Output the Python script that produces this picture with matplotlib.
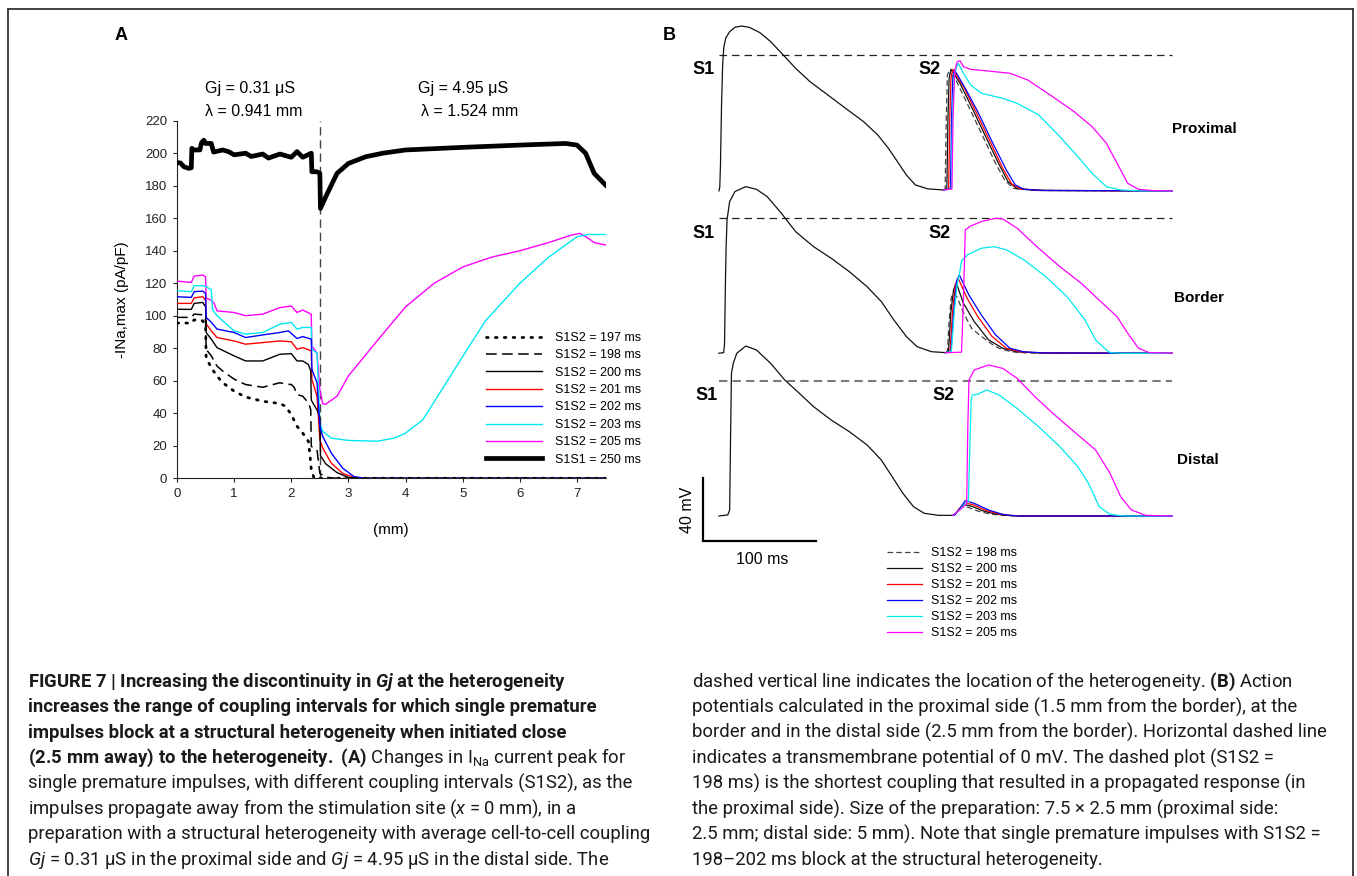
import matplotlib
matplotlib.use("Agg")
import matplotlib.pyplot as plt
from matplotlib.lines import Line2D

W, H = 1357, 876
plt.rcParams['font.family'] = ['Liberation Sans', 'DejaVu Sans']
plt.rcParams['mathtext.fontset'] = 'custom'
plt.rcParams['mathtext.rm'] = 'Roboto'
plt.rcParams['mathtext.it'] = 'Roboto:italic'
plt.rcParams['mathtext.bf'] = 'Roboto:bold'
plt.rcParams['mathtext.bfit'] = 'Roboto:italic:bold'

# ---------------- Panel A data: distance (mm) vs -INa,max (pA/pF) ----------------
x_197 = [0, 0.25, 0.3, 0.45, 0.5, 0.51, 0.6, 0.7, 0.8, 1.0, 1.2, 1.5, 1.8, 1.9, 2.0, 2.1, 2.2, 2.3, 2.33, 2.35, 2.4, 7.5]
y_197 = [95.5, 95.5, 97.5, 96.9, 93.8, 74.2, 68, 62.9, 58.8, 53.6, 50, 47.4, 46, 44.3, 39.2, 32, 27.8, 22.7, 13.4, 5.2, 0, 0]

x_198 = [0, 0.25, 0.3, 0.45, 0.5, 0.51, 0.6, 0.7, 0.8, 1.0, 1.2, 1.5, 1.8, 1.9, 2.0, 2.05, 2.1, 2.2, 2.3, 2.34, 2.35, 2.45, 2.5, 2.6, 2.8, 7.5]
y_198 = [99, 99, 101, 100.6, 97, 79.4, 75.3, 69, 66, 61, 57.7, 56, 58.8, 58, 57.7, 56, 51.5, 50.5, 46.4, 42.3, 19.6, 17.5, 3, 0.6, 0, 0]

x_200 = [0, 0.25, 0.3, 0.45, 0.5, 0.51, 0.6, 0.7, 1.0, 1.2, 1.5, 1.8, 2.0, 2.1, 2.2, 2.3, 2.34, 2.35, 2.45, 2.5, 2.51, 2.6, 2.8, 3.0, 3.2, 7.5]
y_200 = [104, 103.9, 107.6, 108.2, 105.5, 89.7, 85.6, 80.4, 75.3, 72.2, 72.2, 76.3, 76.7, 72.2, 72.2, 70, 66, 48, 42, 38, 14, 9, 3.5, 0.5, 0, 0]

x_201 = [0, 0.25, 0.3, 0.45, 0.5, 0.51, 0.6, 0.7, 1.0, 1.2, 1.5, 1.8, 2.0, 2.1, 2.2, 2.35, 2.36, 2.45, 2.5, 2.55, 2.7, 2.9, 3.1, 3.3, 7.5]
y_201 = [107.6, 107.6, 111, 111.7, 109.6, 95, 90.7, 86.6, 84.5, 82.5, 83.5, 84.5, 84, 79.4, 80.4, 78.4, 60.8, 50.5, 23.7, 18.6, 9.3, 3, 0.5, 0, 0]

x_202 = [0, 0.25, 0.3, 0.45, 0.5, 0.51, 0.6, 0.7, 1.0, 1.2, 1.5, 1.8, 1.95, 2.1, 2.2, 2.35, 2.36, 2.45, 2.5, 2.55, 2.7, 2.9, 3.1, 3.3, 7.5]
y_202 = [111.7, 111.3, 114.8, 115.2, 113.7, 99, 96, 91.8, 89.7, 86.6, 88.2, 89.7, 90.7, 86, 87.2, 85.6, 67, 58.8, 32, 25.8, 15.5, 6.2, 1, 0, 0]

x_203 = [0, 0.25, 0.3, 0.45, 0.5, 0.6, 0.62, 0.7, 1.0, 1.2, 1.5, 1.8, 2.0, 2.1, 2.2, 2.35, 2.36, 2.45, 2.5, 2.55, 2.7, 3.0, 3.5, 3.8, 4.0, 4.3, 4.6, 5.0, 5.4, 6.0, 6.5, 7.0, 7.2, 7.5]
y_203 = [115.4, 114.8, 118.5, 118.5, 118, 116, 104, 100, 90.7, 88.7, 89.7, 94.8, 95.9, 91.8, 92.8, 92.8, 79.4, 77, 34, 28.9, 24.7, 23.3, 22.8, 24.7, 27.8, 36, 52.6, 75, 97, 120, 136, 148.6, 150, 150]

x_205 = [0, 0.25, 0.3, 0.45, 0.5, 0.51, 0.6, 0.65, 0.7, 1.0, 1.2, 1.5, 1.8, 2.0, 2.1, 2.2, 2.35, 2.36, 2.45, 2.5, 2.55, 2.6, 2.8, 3.0, 3.5, 4.0, 4.5, 5.0, 5.5, 6.0, 6.5, 6.9, 7.05, 7.2, 7.3, 7.5]
y_205 = [121.3, 120.5, 124.4, 125, 124, 110.7, 109.6, 107.6, 103, 102, 100, 101, 105, 106, 102, 103.5, 101, 81.4, 77, 54.6, 45.8, 45.5, 50.5, 63, 84.5, 105.5, 120, 130, 136, 140, 145, 149.6, 150.7, 147.6, 145, 143.5]

x_250 = [0, 0.06, 0.12, 0.2, 0.25, 0.26, 0.3, 0.4, 0.43, 0.47, 0.5, 0.6, 0.64, 0.8, 0.9, 1.0, 1.2, 1.3, 1.5, 1.6, 1.8, 2.0, 2.1, 2.2, 2.35, 2.36, 2.45, 2.5, 2.51, 2.6, 2.8, 3.0, 3.3, 3.6, 4.0, 5.0, 6.0, 6.8, 7.0, 7.15, 7.3, 7.5]
y_250 = [194.2, 194, 191.7, 190.7, 191, 203, 202, 202, 206.5, 208, 206, 206, 200.7, 202, 201, 199, 200, 198, 199.5, 197, 199.5, 197.5, 201, 197.5, 200, 188.6, 188.6, 187.6, 166, 173, 187.6, 193.7, 197.8, 200, 202, 203.6, 205, 206, 205, 200, 187.6, 180.4]

HETERO_MM = 2.5
A_XTICKS = list(range(0, 8))
A_YTICKS = list(range(0, 221, 20))
A_LABELS = ['S1S2 = 197 ms', 'S1S2 = 198 ms', 'S1S2 = 200 ms', 'S1S2 = 201 ms',
            'S1S2 = 202 ms', 'S1S2 = 203 ms', 'S1S2 = 205 ms', 'S1S1 = 250 ms']

# ---------------- Panel B data: time (ms) vs membrane potential (mV) ----------------
prox_s1 = [(-3.2, -86.3), (-2.4, -84), (-1.8, -70), (-0.8, -30), (0.2, -5), (1.2, 5), (2.8, 10.6), (6.3, 14.8), (11, 17.6),
           (16.7, 18.4), (23.6, 17.6), (33, 14.2), (42.5, 8.5), (53.6, 0), (64.6, -8.5), (77.2, -16.9), (93, -25.4),
           (108.7, -33.9), (124.5, -42.3), (137.1, -50.8), (146.5, -59.3), (154.4, -67.7), (162.3, -76.2),
           (170.2, -82.5), (181.2, -85), (195.4, -85.7)]
prox_198 = [(195, -85.7), (196.5, -85), (197.5, -40), (198.5, -12.7), (200, -10.5), (206, -15.9), (215.9, -30.7), (228.5, -49.7),
            (241, -68.8), (249, -79.4), (256.9, -84.7), (275.8, -86), (397, -86.3)]
prox_200 = [(195, -85.7), (198, -85), (199, -40), (200, -15), (201.7, -9.1), (209.6, -18), (219, -31.7), (231.6, -50.8),
            (244.3, -69.8), (252, -80.4), (260, -84.9), (279, -86), (397, -86.3)]
prox_201 = [(195, -85.7), (199.6, -85), (200.6, -40), (201.6, -15), (203.3, -9.1), (212.7, -20), (222.2, -33.9), (234.8, -52.9),
            (247.4, -72), (255.3, -81.9), (263.2, -85), (282, -86), (397, -86.3)]
prox_202 = [(195, -85.7), (201.2, -85), (202.2, -40), (203.2, -15), (204.8, -9.5), (214.3, -21.2), (225.3, -36), (237.9, -55),
            (250.5, -73), (258.4, -82.5), (266.3, -85.3), (285, -86), (397, -86.3)]
prox_203 = [(195, -85.7), (202, -85), (203, -40), (204.5, -12), (208, -5.3), (212.7, -11.6), (219, -19), (228.5, -24.3),
            (247.4, -27.5), (260, -30.7), (279, -38), (297.8, -51.9), (313.6, -64.5), (326.2, -75.1), (338.8, -83.6),
            (351.4, -85.7), (370, -86.3), (397, -86.3)]
prox_205 = [(195, -85.7), (202.5, -85), (203.5, -40), (205, -10), (207, -4.5), (209.6, -3.6), (212.7, -7.4), (219, -9.1),
            (234.8, -10.2), (253.7, -11.6), (269.5, -15.9), (291.5, -26.5), (310.4, -36), (326.2, -45.5), (338.8, -56),
            (348.3, -68.8), (357.7, -81.5), (367.2, -85.3), (379.8, -86.1), (397, -86.3)]

bord_s1 = [(-3.2, -85.7), (1.0, -85.3), (1.8, -80), (2.6, -40), (3.2, -18), (4.0, -1), (6.3, 10.6), (11, 17), (20.5, 20.1),
           (30, 18.4), (39.4, 13.8), (52, 3.2), (64.6, -8.5), (80.4, -18), (96, -25.4), (112, -33.9), (127.6, -43.4),
           (140.2, -52.9), (151.3, -64.6), (162.3, -75.1), (171.7, -81.5), (184.4, -84.7), (197, -85.3)]
bord_198 = [(197, -85.3), (198.5, -84.5), (200, -65), (202, -50), (204, -47.6), (207, -50), (212.7, -60), (220, -70),
            (228.5, -75), (238, -80), (244, -82.5), (255, -84.8), (270, -85.5), (397, -85.7)]
bord_200 = [(197, -85.3), (199.5, -84.5), (201.5, -60), (204, -45), (206.4, -41.3), (212.7, -54), (222.2, -65.6),
            (234.8, -77.2), (247.4, -82.5), (260, -84.8), (280, -85.5), (397, -85.7)]
bord_201 = [(197, -85.3), (200.8, -84.5), (203, -60), (205.5, -42), (208, -38), (215.9, -50.8), (225.3, -62.4),
            (237.9, -75), (250.5, -82.5), (263, -84.8), (283, -85.5), (397, -85.7)]
bord_202 = [(197, -85.3), (201.7, -84.5), (204, -60), (206.5, -40), (209, -36), (217.5, -48.7), (228.5, -61.4),
            (241, -74), (253.7, -82.5), (266, -84.8), (286, -85.5), (397, -85.7)]
bord_203 = [(197, -85.3), (202, -84.5), (204.5, -60), (207, -42), (209, -36), (211, -27), (215.9, -23.3), (228.5, -19),
            (239.5, -18), (250.5, -20), (266.3, -26.5), (285.2, -37), (304, -49.7), (320, -64.6), (329.3, -77.2),
            (338.8, -83.6), (342, -85.3), (353.6, -85.7), (397, -85.7)]
bord_205 = [(197, -85.3), (211, -85), (212.7, -50), (214.3, -7.4), (219, -4.9), (228.5, -2.1), (241, 0), (247.4, -0.4),
            (260, -6.3), (279, -19), (297.8, -30.7), (316.7, -41.3), (332.4, -51.9), (348.2, -62.4), (357.7, -73),
            (367.1, -82.5), (376.7, -85.3), (397, -85.7)]

dist_s1 = [(-3.2, -85.7), (4.7, -85), (6.3, -82), (7.2, -31), (7.9, 4.9), (9.5, 11.2), (12.6, 17.6), (20.5, 22.2), (30, 19.7),
           (42.5, 11.2), (55, 0.6), (67.8, -7.8), (80.4, -16.3), (96, -24.8), (112, -32.2), (127.6, -40.6),
           (140.2, -50.2), (149.7, -60.7), (159.2, -71.3), (168.6, -79.8), (178, -84), (190.7, -85.3), (203.3, -85.3)]
dist_198 = [(203.3, -85.3), (205, -84.5), (209.6, -81.5), (213, -79.5), (218, -80.5), (225, -82.5), (235, -84.3),
            (247, -85.3), (260, -85.7), (397, -85.7)]
dist_200 = [(203.3, -85.3), (205, -84.5), (209.6, -81), (213.5, -78.5), (220, -79.5), (230, -82.5), (240, -84.3),
            (250, -85.3), (262, -85.7), (397, -85.7)]
dist_201 = [(203.3, -85.3), (205, -84.5), (209.6, -80.5), (214, -77.5), (221, -78.5), (232, -82), (243, -84.3),
            (253, -85.3), (264, -85.7), (397, -85.7)]
dist_202 = [(203.3, -85.3), (204.8, -85.3), (209.6, -80.8), (214.3, -76), (222.2, -77.7), (234.8, -81.9), (247.4, -84.7),
            (260, -85.7), (397, -85.7)]
dist_203 = [(203.3, -85.3), (209, -82), (214, -78), (217, -76.5), (218, -50), (219.5, -12), (220.6, -8.9), (225, -8.5),
            (233.2, -5.7), (244.2, -8.9), (260, -17.4), (279, -29), (297.8, -41.7), (313.6, -54.4), (323, -65),
            (332.5, -79.8), (342, -84.7), (354.6, -85.7), (397, -85.7)]
dist_205 = [(203.3, -85.3), (209, -82), (215.5, -78), (216.5, -30), (217.5, 0.6), (222.2, 7), (234.8, 10.2), (247.4, 8),
            (260, 1.7), (275.8, -10), (291.5, -20.5), (310.4, -32.2), (329.3, -43.8), (342, -58.6), (351.4, -73.4),
            (360.9, -81.9), (373.5, -85.3), (397, -85.7)]

ZERO_LINE_T = (-3.2, 397)
SCALE_T0, SCALE_V0 = -17.5, -101.6
SCALE_DT, SCALE_DV = 100, 40
B_LABELS = ['S1S2 = 198 ms', 'S1S2 = 200 ms', 'S1S2 = 201 ms', 'S1S2 = 202 ms', 'S1S2 = 203 ms', 'S1S2 = 205 ms']

# ---------------- layout helpers ----------------
def fbox(l, t, r, b):
    return [l / W, 1 - b / H, (r - l) / W, (b - t) / H]

def fp(x, y):
    return (x / W, 1 - y / H)

fig = plt.figure(figsize=(W / 100, H / 100), dpi=100)

# outer frame
fig.add_artist(Line2D([8 / W, 8 / W], [0, 1 - 9 / H], color='#333333', lw=1.3))
fig.add_artist(Line2D([8 / W, 1353 / W], [1 - 9 / H, 1 - 9 / H], color='#333333', lw=1.3))
fig.add_artist(Line2D([1353 / W, 1353 / W], [0, 1 - 9 / H], color='#333333', lw=1.3))

# ---------------- Panel A ----------------
axA = fig.add_axes(fbox(177, 120.7, 605.6, 478.3))
axA.plot(x_250, y_250, color='black', lw=3.4, solid_joinstyle='round', zorder=3, label=A_LABELS[7])
axA.plot(x_205, y_205, color='#ff00ff', lw=1.0, zorder=4, label=A_LABELS[6])
axA.plot(x_203, y_203, color='#00e8f0', lw=1.0, zorder=4, label=A_LABELS[5])
axA.plot(x_201, y_201, color='#ff0000', lw=1.0, zorder=4, label=A_LABELS[3])
axA.plot(x_200, y_200, color='black', lw=1.0, zorder=4, label=A_LABELS[2])
axA.plot(x_198, y_198, color='black', lw=1.1, ls=(0, (7, 3.5)), zorder=4, label=A_LABELS[1])
axA.plot(x_202, y_202, color='#0000ff', lw=1.0, zorder=5, label=A_LABELS[4])
axA.plot(x_197, y_197, color='black', lw=2.0, ls=(0, (0.6, 2.6)), dash_capstyle='round', zorder=6, label=A_LABELS[0])
axA.axvline(HETERO_MM, color='#444444', lw=1.0, ls=(0, (6, 3.5)), zorder=2)

axA.set_xlim(0, 7.5)
axA.set_ylim(0, 220)
axA.set_xticks(A_XTICKS)
axA.set_yticks(A_YTICKS)
axA.tick_params(direction='out', length=3, width=0.8, labelsize=9.5, pad=4, colors='#222222')
for s in ['top', 'right']:
    axA.spines[s].set_visible(False)
for s in ['left', 'bottom']:
    axA.spines[s].set_linewidth(0.8)
    axA.spines[s].set_color('#222222')
axA.set_ylabel('-INa,max (pA/pF)', fontsize=11)
axA.yaxis.set_label_coords(-0.112, 0.5)
axA.set_xlabel('(mm)', fontsize=11)
axA.xaxis.set_label_coords(0.5, -0.125)

h, l = axA.get_legend_handles_labels()
order = [A_LABELS.index(lab) for lab in l]
pairs = sorted(zip(order, h, l))
axA.legend([p[1] for p in pairs], [p[2] for p in pairs], loc='upper left',
           bbox_to_anchor=fp(486, 332), bbox_transform=fig.transFigure,
           frameon=False, fontsize=9, handlelength=4.5, handletextpad=1.0,
           labelspacing=0.43, borderpad=0, borderaxespad=0)

fig.text(*fp(121, 36), 'A', fontsize=13, fontweight='bold', ha='center', va='center')
fig.text(*fp(205, 88), 'Gj = 0.31 \u03bcS', fontsize=11.5, ha='left', va='center')
fig.text(*fp(205, 111), '\u03bb = 0.941 mm', fontsize=11.5, ha='left', va='center')
fig.text(*fp(418, 88), 'Gj = 4.95 \u03bcS', fontsize=11.5, ha='left', va='center')
fig.text(*fp(421, 111), '\u03bb = 1.524 mm', fontsize=11.5, ha='left', va='center')

# ---------------- Panel B ----------------
PX_MS = 1.133
PX_MV = 1.575
T0_PX = 722.5
B_LEFT, B_RIGHT = 690, 1180
V_TOP, V_BOT = 30, -110
zero_px = {'prox': 55.0, 'bord': 218.3, 'dist': 381.0}

def trace_axes(zero_y):
    top = zero_y - V_TOP * PX_MV
    bot = zero_y - V_BOT * PX_MV
    ax = fig.add_axes(fbox(B_LEFT, top, B_RIGHT, bot))
    ax.set_xlim((B_LEFT - T0_PX) / PX_MS, (B_RIGHT - T0_PX) / PX_MS)
    ax.set_ylim(V_BOT, V_TOP)
    ax.axis('off')
    ax.patch.set_alpha(0)
    return ax

def xy(pts):
    return [p[0] for p in pts], [p[1] for p in pts]

styles = [
    dict(color='#444444', lw=0.9, ls=(0, (4.5, 2.5))),
    dict(color='#111111', lw=0.9),
    dict(color='#ff0000', lw=0.9),
    dict(color='#0000ff', lw=0.9),
    dict(color='#00e8f0', lw=0.9),
    dict(color='#ff00ff', lw=0.9),
]

sets = [
    ('prox', prox_s1, [prox_198, prox_200, prox_201, prox_202, prox_203, prox_205]),
    ('bord', bord_s1, [bord_198, bord_200, bord_201, bord_202, bord_203, bord_205]),
    ('dist', dist_s1, [dist_198, dist_200, dist_201, dist_202, dist_203, dist_205]),
]
b_handles = None
for key, s1, s2list in sets:
    ax = trace_axes(zero_px[key])
    if key == 'dist':
        ax.plot(ZERO_LINE_T, [0, 0], color='#7a7a7a', lw=1.5, ls=(0, (4, 2.5)), clip_on=False)
    else:
        ax.plot(ZERO_LINE_T, [0, 0], color='#222222', lw=0.9, ls=(0, (6, 4)), clip_on=False)
    ax.plot(*xy(s1), color='#111111', lw=0.9, clip_on=False)
    hs = []
    for pts, st in zip(s2list, styles):
        ln, = ax.plot(*xy(pts), clip_on=False, **st)
        hs.append(ln)
    if key == 'dist':
        b_handles = hs
        ax.plot([SCALE_T0, SCALE_T0, SCALE_T0 + SCALE_DT],
                [SCALE_V0 + SCALE_DV, SCALE_V0, SCALE_V0], color='black', lw=1.6,
                solid_joinstyle='miter', clip_on=False)

fig.legend(b_handles, B_LABELS, loc='upper left', bbox_to_anchor=fp(887, 547),
           bbox_transform=fig.transFigure, frameon=False, fontsize=9,
           handlelength=2.8, handletextpad=0.72, labelspacing=0.32,
           borderpad=0, borderaxespad=0)

fig.text(*fp(669, 36), 'B', fontsize=13, fontweight='bold', ha='center', va='center')
for (sx, sy, txt) in [(703.6, 70, 'S1'), (929.6, 70, 'S2'), (703.6, 233, 'S1'), (939.6, 233, 'S2'),
                      (706.4, 396, 'S1'), (943.2, 396, 'S2')]:
    fig.text(*fp(sx, sy), txt, fontsize=13, fontweight='bold', ha='center', va='center')
for (sx, sy, txt) in [(1172, 129, 'Proximal'), (1174, 298, 'Border'), (1177, 460, 'Distal')]:
    fig.text(*fp(sx, sy), txt, fontsize=11, fontweight='bold', ha='left', va='center')
fig.text(*fp(688, 510), '40 mV', fontsize=11.5, rotation=90, ha='center', va='center')
fig.text(*fp(762, 559), '100 ms', fontsize=11.5, ha='center', va='center')

# ---------------- caption ----------------
CAP_FS = 13.3
CAP_Y0 = 682
CAP_DY = 25.4
left_lines = [
    (r'FIGURE 7 | Increasing the discontinuity in $\mathbfit{Gj}$ at the heterogeneity', 'bold'),
    ('increases the range of coupling intervals for which single premature', 'bold'),
    ('impulses block at a structural heterogeneity when initiated close', 'bold'),
    (r'$\mathbf{(2.5\ mm\ away)\ to\ the\ heterogeneity.\ (A)}$ Changes in I$_{\mathrm{Na}}$ current peak for', 'normal'),
    ('single premature impulses, with different coupling intervals (S1S2), as the', 'normal'),
    (r'impulses propagate away from the stimulation site ($\mathit{x}$ = 0 mm), in a', 'normal'),
    ('preparation with a structural heterogeneity with average cell-to-cell coupling', 'normal'),
    ('$\\mathit{Gj}$ = 0.31 \u03bcS in the proximal side and $\\mathit{Gj}$ = 4.95 \u03bcS in the distal side. The', 'normal'),
]
right_lines = [
    (r'dashed vertical line indicates the location of the heterogeneity. $\mathbf{(B)}$ Action', 'normal'),
    ('potentials calculated in the proximal side (1.5 mm from the border), at the', 'normal'),
    ('border and in the distal side (2.5 mm from the border). Horizontal dashed line', 'normal'),
    ('indicates a transmembrane potential of 0 mV. The dashed plot (S1S2 =', 'normal'),
    ('198 ms) is the shortest coupling that resulted in a propagated response (in', 'normal'),
    ('the proximal side). Size of the preparation: 7.5 \u00d7 2.5 mm (proximal side:', 'normal'),
    ('2.5 mm; distal side: 5 mm). Note that single premature impulses with S1S2 =', 'normal'),
    ('198\u2013202 ms block at the structural heterogeneity.', 'normal'),
]
for i, (txt, wt) in enumerate(left_lines):
    fig.text(*fp(28, CAP_Y0 + i * CAP_DY), txt, fontsize=CAP_FS,
             fontweight=wt, family='Roboto', ha='left', va='center', color='#1a1a1a')
for i, (txt, wt) in enumerate(right_lines):
    fig.text(*fp(692, CAP_Y0 + i * CAP_DY), txt, fontsize=CAP_FS,
             fontweight=wt, family='Roboto', ha='left', va='center', color='#1a1a1a')

fig.savefig('out.png', dpi=100)
